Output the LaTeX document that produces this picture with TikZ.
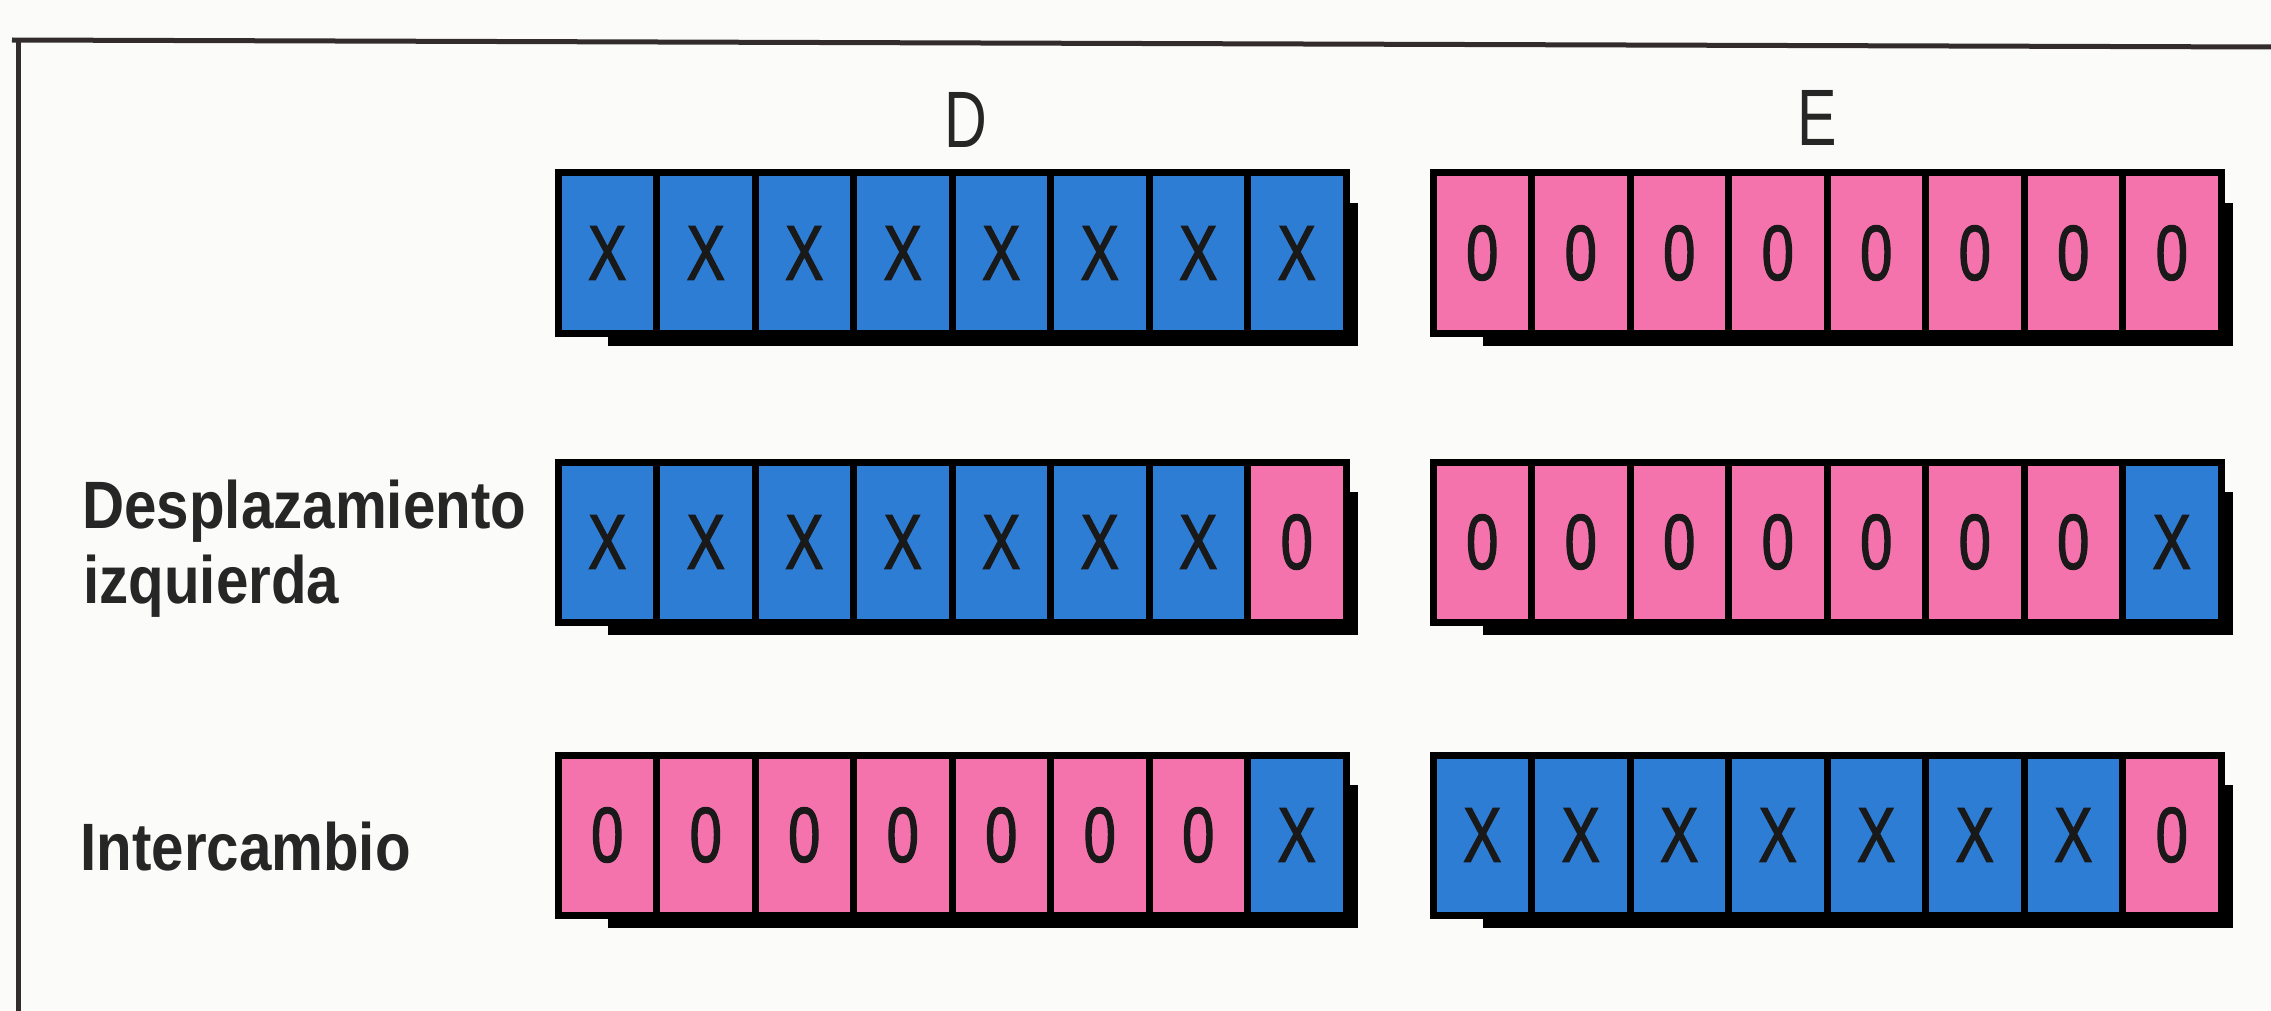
\documentclass[tikz,border=0pt]{standalone}
\usepackage{fontspec}
\setmainfont{Liberation Sans}
\newfontfamily\cellfont[FakeStretch=0.74,FakeBold=1.6]{Liberation Sans}
\newfontfamily\colfont[FakeStretch=0.74]{Liberation Sans}
\newfontfamily\labfont[FakeStretch=0.87]{Liberation Sans}
\definecolor{cblue}{RGB}{45,125,212}
\definecolor{cpink}{RGB}{244,115,172}
\definecolor{paper}{RGB}{251,251,249}
\definecolor{framec}{RGB}{50,44,44}
\begin{document}
\begin{tikzpicture}[x=0.5pt,y=-0.5pt,
  cell/.style={draw=black,line width=3.5pt,minimum width=49.25pt,minimum height=80pt,
    inner sep=0pt,outer sep=0pt,font=\cellfont\fontsize{39}{39}\selectfont,text=black!90},
  bl/.style={cell,fill=cblue},
  pk/.style={cell,fill=cpink},
  shade/.style={fill=black},
  framel/.style={draw=framec,line width=2.5pt},
  rowlab/.style={inner sep=0pt,anchor=base west,font=\labfont\bfseries\fontsize{33.5}{37.5}\selectfont,text=black!85},
  collab/.style={inner sep=0pt,font=\colfont\fontsize{40}{40}\selectfont,text=black!85}]
\fill[paper] (0,0) rectangle (2271,1011);
\useasboundingbox (0,0) rectangle (2271,1011);
% frame
\coordinate (ftl) at (18,40);
\coordinate (fl0) at (12,40);
\coordinate (ftr) at (2271,47);
\coordinate (fbl) at (18,1011);
\draw[framel] (fl0) -- (ftr);
\draw[framel] (ftl) -- (fbl);
% column labels
\node[collab] (labD) at (966,120) {D};
\node[collab] (labE) at (1817,118) {E};
% row labels
\node[rowlab] (lab2a) at (82,528) {Desplazamiento};
\node[rowlab] (lab2b) at (83,603) {izquierda};
\node[rowlab] (lab3) at (80,870) {Intercambio};
% shadows
\foreach \y in {173,462,755}{
  \fill[shade] (608,\y+30) rectangle (1358,\y+173);
  \fill[shade] (1483,\y+30) rectangle (2233,\y+173);
}
% row 1
\foreach \i in {1,...,8}{
  \node[bl] (r1d\i) at ({558+98.5*(\i-0.5)},253) {X};
  \node[pk] (r1e\i) at ({1433+98.5*(\i-0.5)},253) {0};
}
% row 2
\foreach \i in {1,...,7}{
  \node[bl] (r2d\i) at ({558+98.5*(\i-0.5)},542) {X};
  \node[pk] (r2e\i) at ({1433+98.5*(\i-0.5)},542) {0};
}
\node[pk] (r2d8) at ({558+98.5*7.5},542) {0};
\node[bl] (r2e8) at ({1433+98.5*7.5},542) {X};
% row 3
\foreach \i in {1,...,7}{
  \node[pk] (r3d\i) at ({558+98.5*(\i-0.5)},835) {0};
  \node[bl] (r3e\i) at ({1433+98.5*(\i-0.5)},835) {X};
}
\node[bl] (r3d8) at ({558+98.5*7.5},835) {X};
\node[pk] (r3e8) at ({1433+98.5*7.5},835) {0};
\end{tikzpicture}
\end{document}
